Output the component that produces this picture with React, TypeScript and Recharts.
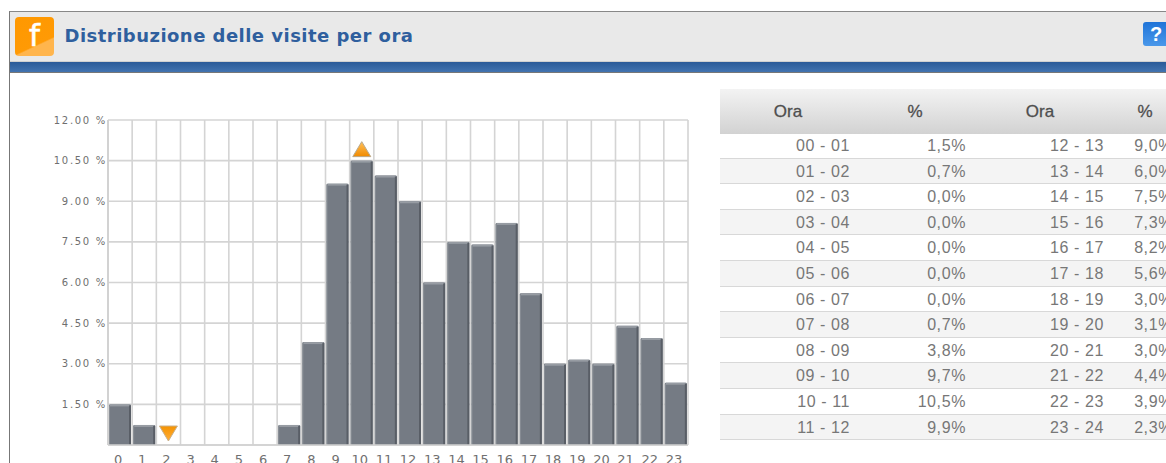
/**
 * Distribuzione delle visite per ora - hourly visits bar chart with side table
 */

import React from 'react';
import {
  ComposedChart,
  Bar,
  XAxis,
  YAxis,
  CartesianGrid,
  ReferenceDot
} from 'recharts';

const hours = ['0', '1', '2', '3', '4', '5', '6', '7', '8', '9', '10', '11', '12', '13', '14', '15', '16', '17', '18', '19', '20', '21', '22', '23'];
const visits = [1.5, 0.7, 0, 0, 0, 0, 0, 0.7, 3.8, 9.7, 10.5, 9.9, 9.0, 6.0, 7.5, 7.3, 8.2, 5.6, 3.0, 3.1, 3.0, 4.4, 3.9, 2.3];
// bar heights, the table shows them rounded
const barValues = [1.5, 0.74, 0, 0, 0, 0, 0, 0.74, 3.8, 9.65, 10.5, 9.95, 9.0, 6.0, 7.5, 7.4, 8.2, 5.6, 3.0, 3.15, 3.0, 4.4, 3.95, 2.3];
const yTicks = [0, 1.5, 3, 4.5, 6, 7.5, 9, 10.5, 12];
const hourRanges = ['00 - 01', '01 - 02', '02 - 03', '03 - 04', '04 - 05', '05 - 06', '06 - 07', '07 - 08', '08 - 09', '09 - 10', '10 - 11', '11 - 12'];
const hourRangesLate = ['12 - 13', '13 - 14', '14 - 15', '15 - 16', '16 - 17', '17 - 18', '18 - 19', '19 - 20', '20 - 21', '21 - 22', '22 - 23', '23 - 24'];

const chartData = hours.map((hour, i) => ({ hour, value: barValues[i] }));
const maxIndex = barValues.indexOf(Math.max(...barValues));
const minIndex = barValues.indexOf(Math.min(...barValues));

const pct = (v: number) => v.toFixed(1).replace('.', ',') + '%';

const BarShape = ({ x, y, width, height }: any) => {
  if (!height || height <= 0) return null;
  return (
    <g>
      <rect x={x} y={y} width={width} height={height} rx={1} fill="#757b84" />
      <rect x={x + 1} y={y} width={width - 2} height={2} fill="#979ca3" />
      <rect x={x + width - 2} y={y + 1} width={2} height={height - 1} fill="#595e66" />
      <rect x={x} y={y + 1} width={1} height={height - 1} fill="#8a8f96" />
    </g>
  );
};

const MaxMarker = ({ cx, cy }: any) => (
  <path d={`M${cx} ${cy - 19} L${cx + 9} ${cy - 4} L${cx - 9} ${cy - 4} Z`} fill="url(#markerUp)" stroke="#b9a98c" strokeWidth={1} />
);

const MinMarker = ({ cx, cy }: any) => (
  <path d={`M${cx} ${cy - 4} L${cx + 9} ${cy - 19} L${cx - 9} ${cy - 19} Z`} fill="url(#markerDown)" stroke="#c9b08a" strokeWidth={1} />
);

const tableFont = '"Liberation Sans", Arial, sans-serif';

const Cell = ({ right, width = 80, children }: { right: number; width?: number; children: React.ReactNode }) => (
  <div style={{ position: 'absolute', left: right - width, width, textAlign: 'right', top: 0, lineHeight: '25.6px', whiteSpace: 'nowrap' }}>
    {children}
  </div>
);

const HeadCell = ({ center, children }: { center: number; children: React.ReactNode }) => (
  <div style={{ position: 'absolute', left: center - 40, width: 80, textAlign: 'center', top: 0, lineHeight: '46px' }}>
    {children}
  </div>
);

export default function App() {
  return (
    <div style={{ position: 'absolute', left: 0, top: 0, width: 1166, height: 463, overflow: 'hidden', background: '#fff' }}>
      {/* panel frame */}
      <div style={{ position: 'absolute', left: 9, top: 11, width: 1157, height: 452, borderLeft: '1px solid #777', borderTop: '1px solid #888', boxSizing: 'border-box' }} />
      <div style={{ position: 'absolute', left: 10, top: 12, width: 1156, height: 49, background: '#e9e9e9', borderBottom: '1px solid #d0d0d0' }} />
      <div style={{ position: 'absolute', left: 10, top: 62, width: 1156, height: 11, background: 'linear-gradient(#2a5a98, #4273b0)', borderBottom: '1px solid #777', boxSizing: 'border-box' }} />

      {/* logo */}
      <div style={{ position: 'absolute', left: 15, top: 17, width: 39, height: 39, borderRadius: 4, background: 'linear-gradient(155deg, #ff9800 0%, #ff9a05 66%, #ffb54d 69%, #ffb54d 100%)', color: '#fff', fontFamily: '"DejaVu Sans", sans-serif', fontSize: 31, lineHeight: '37px', textAlign: 'center', WebkitTextStroke: '0.6px #fff' }}>
        f
      </div>
      <div style={{ position: 'absolute', left: 64.5, top: 23, color: '#2f5f9e', fontFamily: '"DejaVu Sans", sans-serif', fontWeight: 'bold', fontSize: 18, letterSpacing: 0.47, lineHeight: '26px', whiteSpace: 'nowrap' }}>
        Distribuzione delle visite per ora
      </div>
      {/* help icon */}
      <div style={{ position: 'absolute', left: 1143, top: 22, width: 27, height: 24, borderRadius: 3, background: 'linear-gradient(#1f74d8, #4a98ea)', color: '#fff', fontFamily: tableFont, fontWeight: 'bold', fontSize: 20, lineHeight: '24px', paddingLeft: 7, boxSizing: 'border-box' }}>
        ?
      </div>

      <div style={{ position: 'absolute', left: 0, top: 0 }}>
        <ComposedChart
          width={1166}
          height={463}
          data={chartData}
          margin={{ top: 120, right: 478, bottom: 0, left: 0 }}
          barCategoryGap={1}
        >
          <defs>
            <linearGradient id="markerUp" x1="0" y1="0" x2="0" y2="1">
              <stop offset="0%" stopColor="#ffc05a" />
              <stop offset="100%" stopColor="#f08a00" />
            </linearGradient>
            <linearGradient id="markerDown" x1="0" y1="0" x2="0" y2="1">
              <stop offset="0%" stopColor="#f59300" />
              <stop offset="100%" stopColor="#ffae3a" />
            </linearGradient>
          </defs>
          <CartesianGrid
            stroke="#d4d4d4"
            strokeWidth={1.6}
            verticalCoordinatesGenerator={({ offset }: any) =>
              [...hours, ''].map((_, i) => offset.left + (i * offset.width) / hours.length)
            }
          />
          <XAxis
            dataKey="hour"
            interval={0}
            height={18}
            tickLine={false}
            tickSize={0}
            tickMargin={10}
            axisLine={{ stroke: '#d0d0d0', strokeWidth: 1.6 }}
            tick={{ fontSize: 13, dx: -2, fill: '#707070', fontFamily: '"DejaVu Sans", sans-serif' }}
          />
          <YAxis
            width={108}
            domain={[0, 12]}
            ticks={yTicks}
            interval={0}
            tickLine={false}
            tickSize={0}
            tickMargin={1}
            axisLine={{ stroke: '#d0d0d0', strokeWidth: 1.6 }}
            tickFormatter={(v: number) => (v === 0 ? '' : `${v.toFixed(2)} %`)}
            tick={{ fontSize: 10, fill: '#6f6f6f', fontFamily: '"DejaVu Sans", sans-serif', letterSpacing: 1.7 }}
          />
          <Bar dataKey="value" shape={<BarShape />} isAnimationActive={false} />
          <ReferenceDot x={hours[maxIndex]} y={barValues[maxIndex]} shape={<MaxMarker />} ifOverflow="visible" />
          <ReferenceDot x={hours[minIndex]} y={barValues[minIndex]} shape={<MinMarker />} ifOverflow="visible" />
        </ComposedChart>
      </div>

      {/* table */}
      {hourRanges.map((range, i) => (
        <div
          key={range}
          style={{
            position: 'absolute',
            left: 720,
            top: 133 + i * 25.6,
            width: 446,
            height: 25.6,
            boxSizing: 'border-box',
            background: i % 2 === 1 ? '#f4f4f4' : '#fff',
            borderBottom: '1px solid #d8d8d8',
            color: '#777',
            fontFamily: tableFont,
            fontSize: 16,
            letterSpacing: 0.6,
            overflow: 'hidden'
          }}
        >
          <Cell right={130}>{range}</Cell>
          <Cell right={246}>{pct(visits[i])}</Cell>
          <Cell right={384}>{hourRangesLate[i]}</Cell>
          <Cell right={453}>{pct(visits[i + 12])}</Cell>
        </div>
      ))}
      <div style={{ position: 'absolute', left: 720, top: 89, width: 446, height: 45, background: 'linear-gradient(#f3f3f3, #d2d2d2)', color: '#4e4e4e', fontFamily: tableFont, fontSize: 17, WebkitTextStroke: '0.3px #4e4e4e' }}>
        <HeadCell center={68}>Ora</HeadCell>
        <HeadCell center={195}>%</HeadCell>
        <HeadCell center={320}>Ora</HeadCell>
        <HeadCell center={425}>%</HeadCell>
      </div>
    </div>
  );
}
